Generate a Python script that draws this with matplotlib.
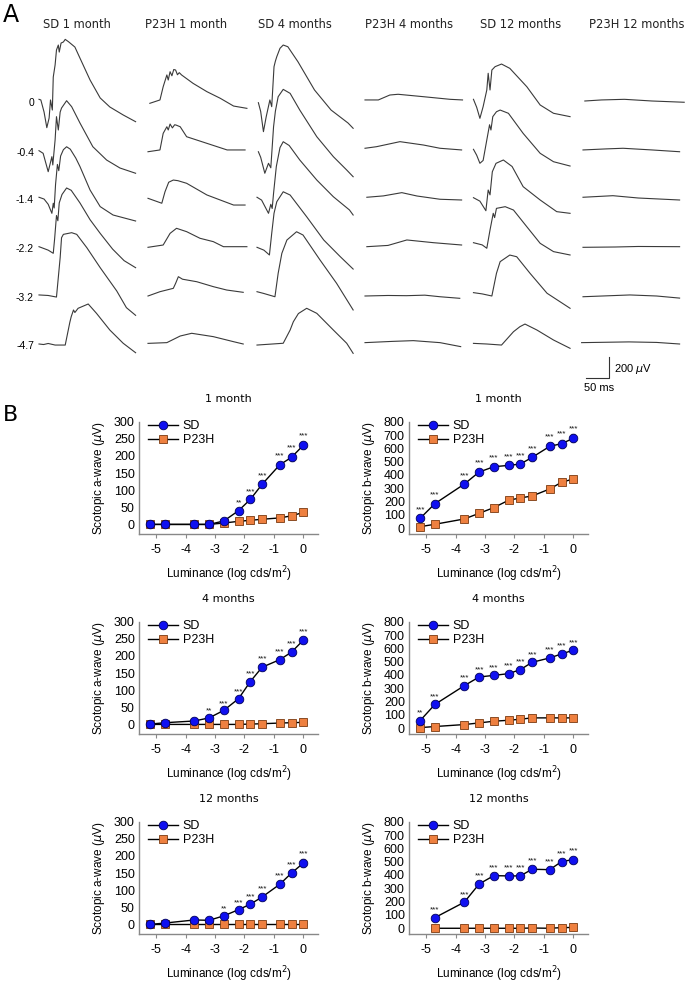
import numpy as np
import matplotlib
matplotlib.use('Agg')
import matplotlib.pyplot as plt

plt.rcParams['axes.unicode_minus'] = False
plt.rcParams['font.family'] = ['Liberation Sans', 'DejaVu Sans']

# ---------------- panel A: ERG traces (t in ms, amplitude in uV) ----------------
col_titles = ['SD 1 month', 'P23H 1 month', 'SD 4 months',
              'P23H 4 months', 'SD 12 months', 'P23H 12 months']
row_labels = ['0', '-0.4', '-1.4', '-2.2', '-3.2', '-4.7']

sd_1m = [
    [(0, 16), (4, 10), (11, -105), (17, -254), (22, -162), (25, 10), (29, -86), (31, 228), (35, 343),
     (38, 486), (42, 533), (44, 466), (48, 552), (53, 562), (57, 587), (64, 565), (78, 514), (89, 409),
     (111, 200), (133, 29), (154, -57), (183, -133), (210, -197)],
    [(0, 3), (9, -22), (20, -197), (28, -54), (30, -133), (35, 105), (38, 327), (42, 200), (46, 371),
     (49, 409), (60, 479), (71, 422), (89, 267), (117, 41), (147, -86), (176, -162), (210, -212)],
    [(0, 7), (11, -10), (20, -60), (28, -146), (31, -50), (33, -95), (36, 130), (40, 320), (43, 260),
     (47, 400), (53, 460), (60, 488), (68, 465), (80, 380), (89, 300), (111, 76), (133, -82),
     (161, -162), (210, -219)],
    [(0, 3), (20, -30), (31, -60), (34, 80), (38, 300), (41, 250), (44, 420), (50, 500), (60, 562),
     (70, 540), (89, 420), (111, 260), (133, 130), (160, -20), (185, -130), (210, -197)],
    [(0, 10), (20, 5), (38, -10), (46, 365), (49, 555), (53, 587), (71, 603), (82, 587), (104, 460),
     (133, 270), (169, 48), (190, -111), (210, -184)],
    [(0, 0), (10, -5), (20, 5), (35, -10), (57, -10), (67, 206), (70, 260), (75, 324), (78, 300),
     (85, 340), (107, 381), (125, 292), (154, 133), (183, 7), (210, -83)],
]
p23h_1m = [
    [(4, -22), (26, 10), (33, 136), (41, 248), (44, 200), (48, 279), (52, 240), (56, 300), (60, 295),
     (64, 250), (68, 270), (73, 248), (98, 168), (128, 89), (157, 26), (186, -48), (215, -70)],
    [(0, -7), (26, 10), (33, 168), (41, 231), (44, 200), (48, 257), (53, 220), (58, 250), (61, 247),
     (70, 231), (84, 136), (128, 73), (172, 10), (211, 10)],
    [(0, -3), (30, -50), (37, 60), (45, 150), (55, 171), (65, 165), (84, 140), (128, 29), (186, -67),
     (211, -67)],
    [(0, -3), (33, 19), (48, 130), (62, 178), (84, 146), (113, 83), (142, 51), (164, 3), (215, 3)],
    [(0, 0), (26, 41), (55, 73), (60, 120), (66, 184), (75, 160), (106, 136), (142, 89), (171, 57),
     (207, 35)],
    [(0, 6), (41, 13), (70, 76), (95, 102), (142, 70), (186, 22), (207, 0)],
]
sd_4m = [
    [(3, -16), (8, -100), (14, -292), (20, -150), (28, 10), (32, -54), (37, 327), (40, 380), (43, 422),
     (50, 502), (57, 533), (67, 517), (89, 374), (125, 105), (161, -86), (198, -210), (209, -260)],
    [(3, -7), (8, -60), (17, -212), (25, -117), (30, -160), (36, 231), (40, 380), (46, 517), (57, 587),
     (72, 549), (93, 390), (130, 136), (166, -54), (195, -181), (209, -245)],
    [(0, 7), (10, -20), (25, -146), (30, -60), (33, -100), (36, 45), (42, 300), (50, 480), (57, 536),
     (70, 500), (93, 362), (130, 171), (166, 12), (201, -114), (209, -162)],
    [(0, -3), (15, -30), (27, -76), (32, 130), (37, 321), (43, 431), (57, 526), (72, 495), (108, 288),
     (145, 67), (181, -92), (209, -210)],
    [(0, 41), (14, 25), (39, -7), (46, 216), (54, 406), (65, 533), (86, 612), (100, 581), (137, 343),
     (173, 121), (209, -133)],
    [(0, -10), (57, 7), (72, 133), (79, 212), (90, 290), (108, 340), (130, 292), (166, 133), (195, 7),
     (209, -89)],
]
p23h_4m = [
    [(0, 10), (29, 10), (54, 57), (72, 64), (127, 41), (185, 16), (212, 10)],
    [(0, 26), (25, 41), (76, 89), (127, 57), (163, 26), (210, 10)],
    [(4, 7), (40, 20), (80, 51), (113, 19), (163, -12), (210, -19)],
    [(4, 3), (50, 15), (91, 67), (149, 41), (210, 19)],
    [(0, 0), (50, 5), (90, 3), (130, 8), (163, -7), (206, -22)],
    [(0, 13), (60, 25), (105, 32), (163, 13), (208, -25)],
]
sd_12m = [
    [(1, 16), (8, -60), (15, -165), (22, -54), (30, 105), (33, 264), (37, 105), (41, 295), (48, 327),
     (62, 352), (80, 311), (117, 136), (146, -38), (175, -117), (211, -149)],
    [(1, 16), (8, -40), (15, -117), (22, -90), (30, 105), (36, 250), (39, 200), (43, 327), (51, 374),
     (59, 390), (77, 359), (109, 168), (146, -22), (175, -102), (211, -143)],
    [(1, 3), (15, -30), (28, -121), (33, 76), (37, 30), (42, 250), (50, 330), (66, 362), (85, 300),
     (109, 108), (146, -19), (182, -130), (211, -146)],
    [(1, 41), (20, 20), (30, -12), (37, 162), (44, 321), (47, 280), (51, 368), (70, 384), (88, 352),
     (117, 193), (146, 35), (175, -44), (211, -76)],
    [(1, 32), (20, 20), (41, 0), (51, 216), (59, 327), (80, 390), (95, 374), (124, 216), (161, 26),
     (211, -117)],
    [(1, 6), (30, 0), (62, -10), (88, 117), (102, 165), (113, 190), (139, 133), (175, 38), (211, -41)],
]
p23h_12m = [
    [(4, 0), (40, 10), (90, 16), (150, 0), (220, -12)],
    [(0, 10), (50, 20), (87, 26), (150, 10), (210, -7)],
    [(0, 7), (65, 22), (120, 0), (210, -19)],
    [(0, -3), (70, 0), (120, 5), (210, 3)],
    [(0, -7), (102, 10), (160, 0), (210, -20)],
    [(-3, 13), (100, 20), (160, 15), (210, 0)],
]
traces = [sd_1m, p23h_1m, sd_4m, p23h_4m, sd_12m, p23h_12m]

# ---------------- panel B: intensity-response data ----------------
lum = [-5.2, -4.7, -3.7, -3.2, -2.7, -2.2, -1.8, -1.4, -0.8, -0.4, 0]

a_sd_1m = [0, 0, 0, 0, 10, 40, 73, 117, 174, 196, 231]
a_p23h_1m = [0, 0, 0, 0, 4, 9, 12, 15, 19, 25, 35]
a_err_1m = [2, 2, 2, 3, 4, 6, 7, 8, 9, 10, 11]
a_sig_1m = ['', '', '', '', '', '**', '***', '***', '***', '***', '***']

b_sd_1m = [75, 185, 332, 422, 462, 472, 482, 532, 615, 635, 675]
b_p23h_1m = [12, 30, 70, 112, 155, 210, 228, 242, 295, 345, 370]
b_err_1m = [20, 20, 22, 25, 22, 22, 22, 25, 28, 30, 30]
b_sig_1m = ['***'] * 11

a_sd_4m = [1, 5, 10, 19, 41, 75, 125, 167, 189, 211, 246]
a_p23h_4m = [0, 0, 0, 0, 0, 0, 1, 2, 4, 5, 6]
a_err_4m = [2, 2, 3, 3, 4, 5, 6, 7, 7, 8, 8]
a_sig_4m = ['', '', '', '**', '***', '***', '***', '***', '***', '***', '***']

b_sd_4m = [58, 179, 320, 385, 397, 410, 440, 495, 528, 558, 586]
b_p23h_4m = [5, 13, 28, 40, 53, 60, 68, 78, 78, 78, 78]
b_err_4m = [12, 15, 15, 15, 15, 15, 15, 15, 15, 15, 15]
b_sig_4m = ['**'] + ['***'] * 10

a_sd_12m = [0, 4, 13, 12, 25, 43, 59, 80, 117, 150, 179]
a_p23h_12m = [0] * 11
a_err_12m = [2, 2, 3, 3, 4, 5, 6, 7, 8, 9, 12]
a_sig_12m = ['', '', '', '', '**', '***', '***', '***', '***', '***', '***']

lum_b12 = [-4.7, -3.7, -3.2, -2.7, -2.2, -1.8, -1.4, -0.8, -0.4, 0]
b_sd_12m = [80, 196, 332, 395, 393, 393, 443, 440, 500, 516]
b_p23h_12m = [0, 0, 0, 0, 0, 0, 2, 0, 5, 6]
b_err_12m = [15, 15, 18, 18, 20, 20, 20, 20, 20, 20]
b_sig_12m = ['***'] * 10

ages = ['1 month', '4 months', '12 months']

# ---------------- figure ----------------
W, H = 685, 982
fig = plt.figure(figsize=(W / 100, H / 100), dpi=100)

# panel A in pixel coordinates
ax_a = fig.add_axes([0, (H - 395) / H, 1, 395 / H])
ax_a.set_xlim(0, W)
ax_a.set_ylim(395, 0)
ax_a.axis('off')

col_x0 = [39, 148, 257, 365, 473, 583]
col_cx = [77, 186, 295, 409, 521, 637]
row_base = [101, 151, 198, 247, 296, 344]
px_per_ms = 23 / 50.0
px_per_uv = 21 / 200.0

for c, col in enumerate(traces):
    ax_a.text(col_cx[c], 24, col_titles[c], ha='center', va='center', fontsize=8.3,
              family='DejaVu Sans', color='#222222')
    for r, tr in enumerate(col):
        t = np.array([p[0] for p in tr])
        v = np.array([p[1] for p in tr])
        ax_a.plot(col_x0[c] + t * px_per_ms, row_base[r] - v * px_per_uv,
                  color='#3a3a3a', lw=0.8)

for r, lab in enumerate(row_labels):
    ax_a.text(34, row_base[r] + 2, lab, ha='right', va='center', fontsize=7.5)

ax_a.text(3, 15, 'A', fontsize=17, family='DejaVu Sans', va='center', ha='left')

# scale bar
ax_a.plot([586, 609, 609], [378, 378, 357], color='#333333', lw=0.8)
ax_a.text(614, 369, '200 $\\mu$V', fontsize=8, va='center', ha='left')
ax_a.text(599, 388, '50 ms', fontsize=8, va='center', ha='center')

fig.text(3 / W, 1 - 415 / H, 'B', fontsize=16, family='DejaVu Sans', va='center', ha='left')

# panel B
blue, blue_edge = '#1010f0', '#00005a'
orange, orange_edge = '#ee8040', '#7a3a10'

sets = [
    (lum, a_sd_1m, a_p23h_1m, a_err_1m, a_sig_1m, lum, b_sd_1m, b_p23h_1m, b_err_1m, b_sig_1m),
    (lum, a_sd_4m, a_p23h_4m, a_err_4m, a_sig_4m, lum, b_sd_4m, b_p23h_4m, b_err_4m, b_sig_4m),
    (lum, a_sd_12m, a_p23h_12m, a_err_12m, a_sig_12m, lum_b12, b_sd_12m, b_p23h_12m, b_err_12m, b_sig_12m),
]

ax_w = 179 / W
ax_h = 112.3 / H
lefts = [139 / W, 409 / W]
bottoms = [(H - 534) / H, (H - 734) / H, (H - 934) / H]

for i, s in enumerate(sets):
    for j in range(2):
        x = s[0 + 5 * j]
        sd, p23, err, sig = s[1 + 5 * j], s[2 + 5 * j], s[3 + 5 * j], s[4 + 5 * j]
        ax = fig.add_axes([lefts[j], bottoms[i], ax_w, ax_h])
        ax.errorbar(x, sd, yerr=err, fmt='none', ecolor='#999999', elinewidth=0.8, capsize=1.5)
        ax.plot(x, sd, '-o', color='black', lw=1, mfc=blue, mec=blue_edge, ms=6.2, mew=0.6,
                label='SD', zorder=4)
        ax.plot(x, p23, '-s', color='black', lw=1, mfc=orange, mec=orange_edge, ms=5.8, mew=0.6,
                label='P23H', zorder=3)
        for xi, yi, ei, st in zip(x, sd, err, sig):
            if st:
                ax.annotate(st, (xi, yi + ei), xytext=(0, 1.5), textcoords='offset points',
                            ha='center', va='bottom', fontsize=5.8, color='#111111')
        ax.set_xlim(-5.58, 0.5)
        if j == 0:
            ax.set_ylim(-28, 300)
            ax.set_yticks(range(0, 301, 50))
            ax.set_ylabel('Scotopic a-wave ($\\mu$V)', fontsize=8.5, labelpad=5)
        else:
            ax.set_ylim(-43, 800)
            ax.set_yticks(range(0, 801, 100))
            ax.set_ylabel('Scotopic b-wave ($\\mu$V)', fontsize=8.5, labelpad=5)
        ax.set_xticks([-5, -4, -3, -2, -1, 0])
        ax.set_xticklabels(['-5', '-4', '-3', '-2', '-1', '0'])
        ax.tick_params(axis='y', length=0, labelsize=9, pad=3)
        ax.tick_params(axis='x', length=3, color='#888888', labelsize=9, pad=4)
        for sp in ['top', 'right']:
            ax.spines[sp].set_visible(False)
        for sp in ['left', 'bottom']:
            ax.spines[sp].set_color('#888888')
            ax.spines[sp].set_linewidth(1)
        ax.set_xlabel('Luminance (log cds/m$^2$)', fontsize=8.5, labelpad=6)
        ax.set_title(ages[i], fontsize=8, family='DejaVu Sans', pad=14)
        ax.legend(loc='upper left', bbox_to_anchor=(0.02, 1.06), frameon=False, fontsize=9,
                  handlelength=2.4, labelspacing=0.2, handletextpad=0.4, borderaxespad=0)

fig.savefig('out.png', dpi=100)
